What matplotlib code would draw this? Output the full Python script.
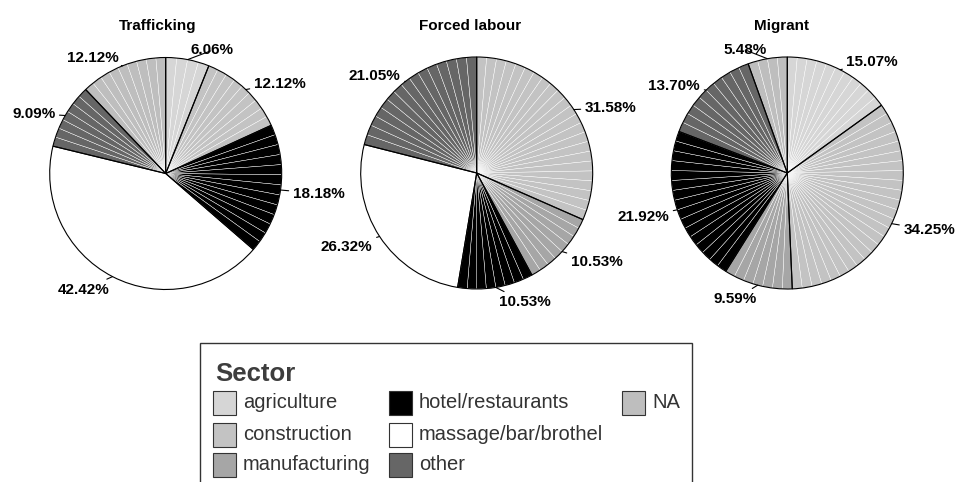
import numpy as np
import matplotlib
matplotlib.use("Agg")
import matplotlib.pyplot as plt
from matplotlib.patches import Rectangle

plt.rcParams['font.family'] = ['Liberation Sans', 'DejaVu Sans']

# data: number of cases per sector in each group
sectors = ['agriculture', 'construction', 'manufacturing', 'hotel/restaurants',
           'massage/bar/brothel', 'other', 'NA']
sector_colors = ['#d6d6d6', '#c3c3c3', '#a6a6a6', '#000000', '#ffffff', '#666666', '#bebebe']
titles = ['Trafficking', 'Forced labour', 'Migrant']
trafficking = [2, 4, 0, 6, 14, 3, 4]
forced_labour = [0, 6, 2, 2, 5, 4, 0]
migrant = [11, 25, 7, 16, 0, 10, 4]
groups = [trafficking, forced_labour, migrant]

# layout (pixels, y measured from top)
W, H = 956, 482
centers = [(165.7, 173.5), (476.7, 173), (787.3, 173)]
radius = 116
title_x = [158, 470, 782]
step_deg = 5  # polar rendering leaves a faint seam every few degrees
# label text centres relative to pie centre, one per non-zero sector
label_offsets = [
    [(46, -123), (114, -90), (153, 20), (-82, 116), (-132, -60), (-73, -115)],
    [(134, -65), (120, 89), (48, 129), (-130, 74), (-102, -97)],
    [(85, -111), (142, 57), (-52, 126), (-144, 44), (-113, -87), (-42, -123)],
]

fig = plt.figure(figsize=(W / 100, H / 100), dpi=100)
ax = fig.add_axes([0, 0, 1, 1])


def Y(y):
    return H - y


for counts, (cx, cy), title, tx, offs in zip(groups, centers, titles, title_x, label_offsets):
    counts = np.array(counts, dtype=float)
    keep = counts > 0
    nz = counts[keep]
    cols = np.array(sector_colors)[keep]
    total = nz.sum()
    # split each sector into thin pieces so the seams show like the original
    pieces = np.maximum(1, np.round(360 * nz / total / step_deg)).astype(int)
    vals = np.repeat(nz / pieces, pieces)
    ax.pie(vals, colors=np.repeat(cols, pieces), startangle=90, counterclock=False,
           center=(cx, Y(cy)), radius=radius,
           wedgeprops=dict(edgecolor='white', linewidth=0.3))
    # sector outlines
    ax.pie(nz, startangle=90, counterclock=False, center=(cx, Y(cy)), radius=radius,
           wedgeprops=dict(fill=False, edgecolor='black', linewidth=0.8))
    # percentage labels with leader lines
    cum = np.cumsum(nz) - nz / 2
    for n, mid, (dx, dy) in zip(nz, cum, offs):
        ang = np.deg2rad(90 - 360 * mid / total)
        ex, ey = cx + radius * np.cos(ang), Y(cy) + radius * np.sin(ang)
        ax.annotate(f'{100 * n / total:.2f}%', xy=(ex, ey), xytext=(cx + dx, Y(cy + dy)),
                    ha='center', va='center', fontsize=11, fontweight='bold',
                    arrowprops=dict(arrowstyle='-', lw=0.8, color='black',
                                    shrinkA=1, shrinkB=0))
    ax.text(tx, Y(26), title, ha='center', va='center', fontsize=11, fontweight='bold')

# legend, drawn by hand (clipped at the bottom like the original)
ax.add_patch(Rectangle((200, Y(520)), 492, 520 - 343, fill=False,
                       edgecolor='#333333', linewidth=1, clip_on=False))
ax.text(215, Y(374), 'Sector', ha='left', va='center', fontsize=18.5,
        fontweight='bold', color='#3d3d3d')
col_x = [213, 389, 622]
row_y = [403, 435, 465]
for i, (name, col) in enumerate(zip(sectors, sector_colors)):
    c, r = divmod(i, 3)
    sx, sy = col_x[c], row_y[r]
    ax.add_patch(Rectangle((sx, Y(sy + 12)), 23, 24, facecolor=col,
                           edgecolor='#333333', linewidth=0.8))
    ax.text(sx + 30, Y(sy), name, ha='left', va='center', fontsize=14.5, color='#333333')

ax.set_xlim(0, W)
ax.set_ylim(0, H)
ax.set_aspect('auto')
ax.axis('off')

fig.savefig('out.png', dpi=100)
